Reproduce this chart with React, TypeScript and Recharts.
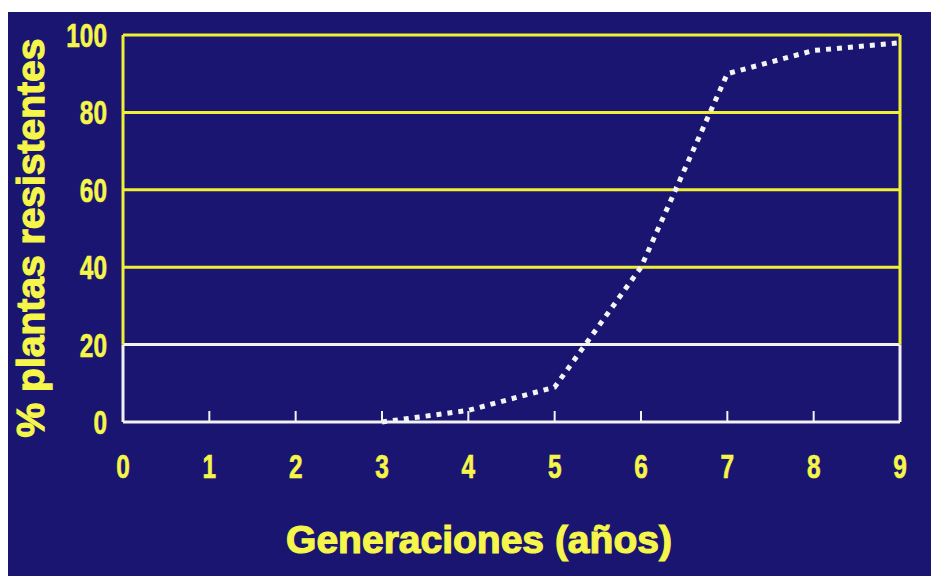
import {
  LineChart,
  Line,
  XAxis,
  YAxis,
  ReferenceLine,
  Label,
} from "recharts";

// generations (years) and % resistant plants
const generations = [3, 4, 5, 6, 7, 8, 9];
const resistantPct = [0, 3, 9, 40, 90, 96, 98];

const xTicks = [0, 1, 2, 3, 4, 5, 6, 7, 8, 9];
const yTicks = [0, 20, 40, 60, 80, 100];
const yellowLines = [40, 60, 80, 100];

const NAVY = "#1a1570";
const YELLOW = "#efef36";
const TEXT_YELLOW = "#f6f64a";
const WHITE = "#f2f2f2";

const data = generations.map((g, i) => ({ gen: g, pct: resistantPct[i] }));

// condensed bold digits, like the slide's typeface
const Digits = ({ x, y, anchor, value }: any) => (
  <text
    transform={`translate(${x},${y}) scale(0.74,1)`}
    textAnchor={anchor}
    fill={TEXT_YELLOW}
    stroke={TEXT_YELLOW}
    strokeWidth={0.6}
    fontFamily="'Liberation Sans', Arial, sans-serif"
    fontWeight="bold"
    fontSize={33}
  >
    {value}
  </text>
);

const XTick = (props: any) => {
  const { x, payload } = props;
  const y = 422;
  return (
    <g>
      {payload.value > 0 && payload.value < 9 && (
        <line x1={x} x2={x} y1={y} y2={y - 11} stroke={WHITE} strokeWidth={2} />
      )}
      <Digits x={x} y={y + 56} anchor="middle" value={payload.value} />
    </g>
  );
};

const YTick = (props: any) => {
  const { y, payload } = props;
  return <Digits x={107} y={y + 12} anchor="end" value={payload.value} />;
};

export default function App() {
  return (
    <div
      style={{
        position: "absolute",
        left: 0,
        top: 0,
        width: 931,
        height: 576,
        background: "#ffffff",
        overflow: "hidden",
      }}
    >
      <div
        style={{
          position: "absolute",
          left: 8,
          top: 12,
          width: 923,
          height: 564,
          background: NAVY,
        }}
      />
      <div style={{ position: "absolute", left: 0, top: 0 }}>
        <LineChart
          width={931}
          height={576}
          data={data}
          margin={{ top: 35, right: 31, bottom: 124, left: 93 }}
        >
          <XAxis
            dataKey="gen"
            type="number"
            domain={[0, 9]}
            ticks={xTicks}
            height={30}
            axisLine={{ stroke: WHITE, strokeWidth: 3 }}
            tickLine={false}
            tickSize={0}
            tickMargin={0}
            tick={<XTick />}
            interval={0}
          >
            <Label
              content={() => (
                <text
                  x={479}
                  y={553}
                  textAnchor="middle"
                  fill={TEXT_YELLOW}
                  stroke={TEXT_YELLOW}
                  strokeWidth={1.2}
                  fontFamily="'Liberation Sans', Arial, sans-serif"
                  fontWeight="bold"
                  fontSize={39}
                >
                  Generaciones (años)
                </text>
              )}
            />
          </XAxis>
          <YAxis
            type="number"
            domain={[0, 100]}
            ticks={yTicks}
            width={30}
            axisLine={false}
            tickLine={false}
            tick={<YTick />}
            interval={0}
          >
            <Label
              content={() => (
                <text
                  transform="translate(44,238) rotate(-90)"
                  textAnchor="middle"
                  fill={TEXT_YELLOW}
                  stroke={TEXT_YELLOW}
                  strokeWidth={1.2}
                  fontFamily="'Liberation Sans', Arial, sans-serif"
                  fontWeight="bold"
                  fontSize={39}
                >
                  % plantas resistentes
                </text>
              )}
            />
          </YAxis>
          {yellowLines.map((v) => (
            <ReferenceLine key={v} y={v} stroke={YELLOW} strokeWidth={3} />
          ))}
          <ReferenceLine y={20} stroke={WHITE} strokeWidth={3} />
          <ReferenceLine
            segment={[{ x: 0, y: 20 }, { x: 0, y: 100 }]}
            stroke={YELLOW}
            strokeWidth={3}
          />
          <ReferenceLine
            segment={[{ x: 0, y: 0 }, { x: 0, y: 20 }]}
            stroke={WHITE}
            strokeWidth={3}
          />
          <ReferenceLine
            segment={[{ x: 9, y: 20 }, { x: 9, y: 100 }]}
            stroke={YELLOW}
            strokeWidth={3}
          />
          <ReferenceLine
            segment={[{ x: 9, y: 0 }, { x: 9, y: 20 }]}
            stroke={WHITE}
            strokeWidth={3}
          />
          <Line
            dataKey="pct"
            type="linear"
            stroke="#f4f4f4"
            strokeWidth={5}
            strokeDasharray="5 6"
            dot={false}
            isAnimationActive={false}
          />
        </LineChart>
      </div>
    </div>
  );
}
